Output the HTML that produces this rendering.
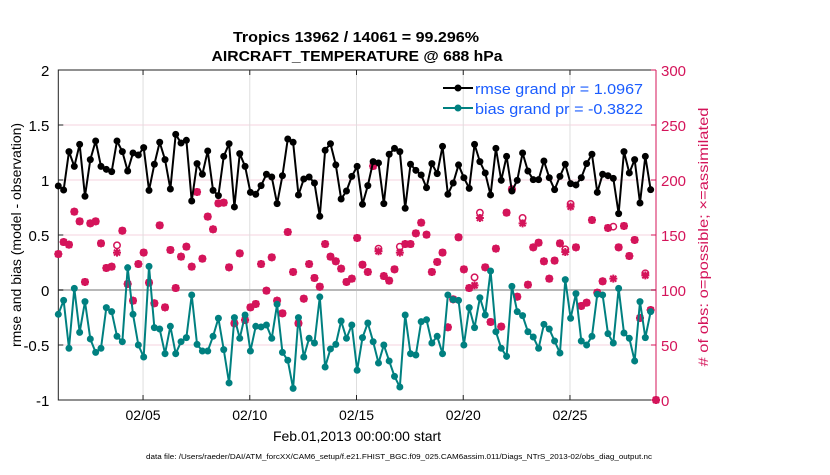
<!DOCTYPE html>
<html><head><meta charset="utf-8">
<style>
body{margin:0;background:#fff;width:830px;height:470px;overflow:hidden;font-family:"Liberation Sans",sans-serif;}
svg text{font-family:"Liberation Sans",sans-serif;}
</style></head>
<body>
<svg id="chart" width="830" height="470" viewBox="0 0 830 470" xmlns="http://www.w3.org/2000/svg">
<g id="grid"></g>
<g id="axes"></g>
<g id="marks"></g>
<text x="356" y="42" text-anchor="middle" font-size="15" font-weight="bold" textLength="246" lengthAdjust="spacingAndGlyphs">Tropics 13962 / 14061 = 99.296%</text>
<text x="357" y="61" text-anchor="middle" font-size="15" font-weight="bold" textLength="291" lengthAdjust="spacingAndGlyphs">AIRCRAFT_TEMPERATURE @ 688 hPa</text>
<text x="357" y="441" text-anchor="middle" font-size="14">Feb.01,2013 00:00:00 start</text>
<text transform="translate(21,235) rotate(-90)" text-anchor="middle" font-size="14">rmse and bias (model - observation)</text>
<text transform="translate(708,237) rotate(-90)" text-anchor="middle" font-size="14" fill="#d4145a" textLength="259" lengthAdjust="spacingAndGlyphs"># of obs: o=possible; ×=assimilated</text>
<text x="399" y="459" text-anchor="middle" font-size="7" textLength="506" lengthAdjust="spacingAndGlyphs">data file: /Users/raeder/DAI/ATM_forcXX/CAM6_setup/f.e21.FHIST_BGC.f09_025.CAM6assim.011/Diags_NTrS_2013-02/obs_diag_output.nc</text>
<g>
<g>
<line x1="443" y1="88" x2="473" y2="88" stroke="#000" stroke-width="2"/><circle cx="458" cy="88" r="3.5" fill="#000"/>
<text x="475" y="94" font-size="15" fill="#1a5cff" textLength="168" lengthAdjust="spacingAndGlyphs">rmse grand pr = 1.0967</text></g>
<g>
<line x1="443" y1="108" x2="473" y2="108" stroke="#008080" stroke-width="2"/><circle cx="458" cy="108" r="3.5" fill="#008080"/>
<text x="475" y="114" font-size="15" fill="#1a5cff" textLength="168" lengthAdjust="spacingAndGlyphs">bias grand pr = -0.3822</text></g>
</g>
</svg>
<script>
const rmse=[0.946,0.909,1.258,1.124,1.324,0.852,1.185,1.355,1.124,1.097,1.076,1.355,1.258,1.082,1.246,1.227,1.294,0.906,1.143,1.343,1.185,0.918,1.415,1.336,1.361,0.809,1.149,1.052,1.264,
0.906,0.858,1.215,1.330,0.755,1.24,1.124,0.888,0.870,0.949,1.052,1.027,0.785,1.039,1.373,1.343,0.864,1.009,1.027,0.973,0.670,1.270,1.330,1.137,0.827,0.900,1.033,1.124,
0.779,0.949,1.167,1.155,0.785,1.234,1.288,1.258,0.743,1.143,1.088,1.046,0.930,1.149,1.058,1.306,0.870,0.973,1.137,1.021,0.924,1.324,1.167,1.064,0.864,1.288,0.997,1.215,
0.900,0.997,1.246,1.082,1.003,1.003,1.173,1.021,0.912,1.033,1.143,0.967,0.955,1.021,1.149,1.234,0.888,1.052,1.039,1.015,0.694,1.258,1.064,1.185,0.791,1.215,0.912];
const bias=[-0.221,-0.094,-0.530,0.015,-0.385,-0.106,-0.445,-0.567,-0.530,-0.160,-0.197,-0.421,-0.470,0.203,-0.221,-0.500,-0.609,0.215,-0.342,-0.355,-0.579,-0.330,-0.579,-0.470,-0.433,-0.045,-0.494,-0.555,-0.555,
-0.421,-0.257,-0.542,-0.845,-0.251,-0.439,-0.227,-0.555,-0.330,-0.336,-0.318,-0.439,-0.130,-0.567,-0.639,-0.894,-0.251,-0.609,-0.439,-0.482,-0.063,-0.700,-0.536,-0.494,-0.282,-0.439,-0.318,-0.730,
-0.433,-0.300,-0.470,-0.664,-0.500,-0.645,-0.785,-0.882,-0.227,-0.579,-0.591,-0.288,-0.270,-0.482,-0.421,-0.579,-0.045,-0.088,-0.094,-0.500,-0.160,-0.342,-0.070,-0.227,0.173,-0.379,-0.530,-0.603,
0.033,-0.197,-0.233,-0.379,-0.427,-0.530,-0.312,-0.355,-0.464,-0.573,0.094,-0.257,-0.033,-0.464,-0.500,-0.421,-0.039,-0.045,-0.397,-0.482,0.015,-0.391,-0.439,-0.645,-0.106,-0.433,-0.197];
const nUsed=[132.7,143.6,141.2,171.2,162.4,107.3,160.6,162.4,142.4,120.0,121.2,134.0,153.9,105.5,90.3,123.6,134.0,106.7,87.9,158.8,84.2,136.4,101.8,130.3,139.4,121.2,189.1,128.5,166.7,
155.2,178.8,179.4,120.6,69.7,133.3,72.7,84.2,87.3,123.6,99.4,129.7,90.3,78.8,152.7,116.4,69.7,92.1,123.6,110.9,103.0,141.8,130.3,126.1,119.4,107.3,110.3,147.3,
123.0,116.4,212.7,135.2,112.7,108.5,118.8,134.0,141.8,141.8,151.5,161.2,150.3,116.4,125.5,134.0,66.1,91.5,147.9,118.8,101.8,104.2,165.5,120.6,70.9,137.6,66.7,170.3,
191.5,93.9,160.6,104.8,138.8,143.0,126.1,110.3,126.7,142.4,134.5,175.8,138.8,85.5,88.5,163.6,97.6,107.9,156.4,110.3,138.8,158.2,130.9,145.5,74.5,113.3,81.8,0];
const nPoss=nUsed.slice();
const possOverrides=[[11,140.6],[60,137.6],[64,139.4],[78,111.5],[79,170.3],[87,165.5],[95,137],[96,178.2],[104,157.6],[110,115.2]];
const leftTicks=[2,1.5,1,0.5,0,-0.5,-1];
const rightTicks=[0,50,100,150,200,250,300];
const dateTicks=[4,9,14,19,24];
const dateLabels=["02/05","02/10","02/15","02/20","02/25"];
possOverrides.forEach(p=>{nPoss[p[0]]=p[1];});

const X0=58.3,X1=656,Y0=70,Y1=400;
const tStart=0.03,tEnd=28.03;
const xDay=d=>X0+(d-tStart)/(tEnd-tStart)*(X1-X0);
const xIdx=i=>xDay(tStart+i*0.25);
const yL=v=>Y1-(v+1)/3*(Y1-Y0);
const yR=v=>Y1-v/300*(Y1-Y0);
const NS="http://www.w3.org/2000/svg";
function mk(tag,attrs,parent){const e=document.createElementNS(NS,tag);for(const k in attrs)e.setAttribute(k,attrs[k]);parent.appendChild(e);return e;}
const grid=document.getElementById('grid'),axes=document.getElementById('axes'),marks=document.getElementById('marks');
const CR="#d4145a";
leftTicks.forEach(v=>{
  if(v!==2&&v!==-1&&v!==0){const g=mk('line',{x1:X0,x2:X1,y1:yL(v),y2:yL(v),stroke:"#f6d3df","stroke-width":1},grid);
  
  }
  const t=mk('text',{x:X0-9,y:yL(v)+6,"text-anchor":"end","font-size":15},axes);t.textContent=v;
  
  
  mk('line',{x1:X0,x2:X0+5,y1:yL(v),y2:yL(v),stroke:"#222"},axes);
});
dateTicks.forEach((d,k)=>{
  const g=mk('line',{x1:xDay(d),x2:xDay(d),y1:Y0,y2:Y1,stroke:"#dedede","stroke-width":1},grid);
  
  
  mk('line',{x1:xDay(d),x2:xDay(d),y1:Y1,y2:Y1-5,stroke:"#222"},axes);
  mk('line',{x1:xDay(d),x2:xDay(d),y1:Y0,y2:Y0+5,stroke:"#222"},axes);
  const t=mk('text',{x:xDay(d),y:420,"text-anchor":"middle","font-size":14},axes);t.textContent=dateLabels[k];
  
  
});
const zl=mk('line',{x1:X0,x2:X1,y1:yL(0),y2:yL(0),stroke:"#b8b8b8","stroke-width":2},grid);


const box=mk('path',{d:`M${X1},${Y0}H${X0}V${Y1}H${X1}`,fill:"none",stroke:"#222","stroke-width":1},axes);


const ra=mk('line',{x1:X1,x2:X1,y1:Y0,y2:Y1,stroke:CR,"stroke-width":1},axes);


rightTicks.forEach(v=>{
  mk('line',{x1:X1,x2:X1-5,y1:yR(v),y2:yR(v),stroke:CR},axes);
  const t=mk('text',{x:X1+5,y:yR(v)+6,"font-size":15,fill:CR},axes);t.textContent=v;
  
  
});
nUsed.forEach((n,i)=>{
  const x=xIdx(i),y=yR(n),yp=yR(nPoss[i]);
  const c=mk('circle',{cx:x,cy:yp,r:3.2,fill:"none",stroke:CR,"stroke-width":1.5},marks);
  
  
  const s=mk('path',{d:`M${x-4},${y}H${x+4}M${x},${y-4}V${y+4}M${x-3},${y-3}L${x+3},${y+3}M${x-3},${y+3}L${x+3},${y-3}`,stroke:CR,"stroke-width":2},marks);
  
  
});
function series(arr,col,name){
  const p=mk('polyline',{points:arr.map((v,i)=>xIdx(i)+","+yL(v)).join(" "),fill:"none",stroke:col,"stroke-width":2,"stroke-linejoin":"round"},marks);
  
  
  arr.forEach((v,i)=>{const c=mk('circle',{cx:xIdx(i),cy:yL(v),r:3.5,fill:col},marks);
    
    });
}
series(bias,"#008080","bias");
series(rmse,"#000000","rmse");
</script>
</body></html>
